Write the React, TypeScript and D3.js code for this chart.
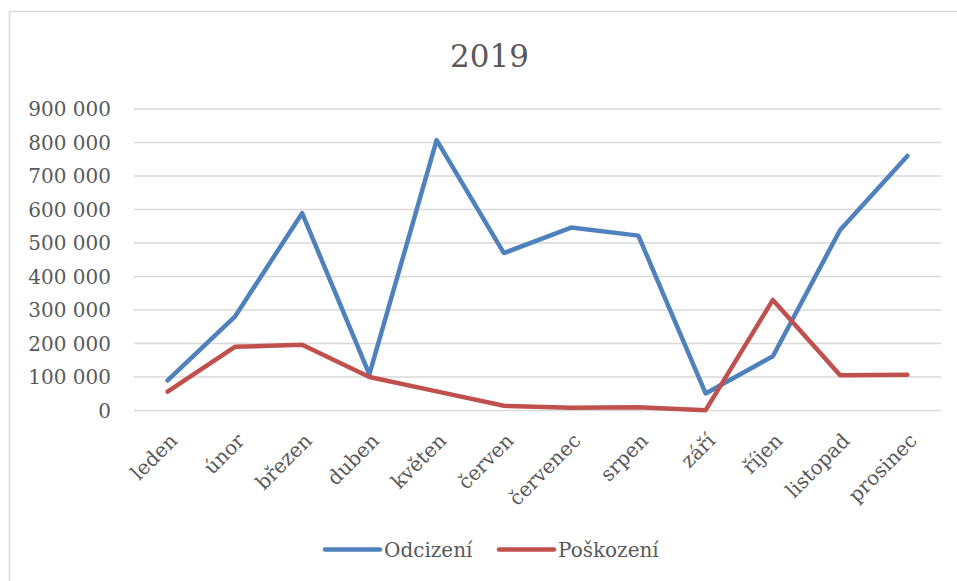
import React from "react";
import * as d3 from "d3";

// data
const months = ["leden", "únor", "březen", "duben", "květen", "červen", "červenec", "srpen", "září", "říjen", "listopad", "prosinec"];
const odcizeni = [90000, 280000, 589000, 108000, 807000, 470000, 546000, 522000, 51000, 162000, 539000, 760000];
const poskozeni = [56000, 190000, 196000, 100000, 57000, 14000, 8000, 10000, 1000, 330000, 105000, 107000];
const yTicks = [0, 100000, 200000, 300000, 400000, 500000, 600000, 700000, 800000, 900000];

const seriesNames = ["Odcizení", "Poškození"];
const seriesColors = ["#4f81bd", "#c0504d"];

const W = 957, H = 581;
const FONT = "'DejaVu Serif', serif";
const TEXT = "#595959";

const locale = d3.formatLocale({ decimal: ",", thousands: " ", grouping: [3], currency: ["", " Kč"] });
const fmt = locale.format(",");

export default function App() {
  const x = d3.scalePoint<string>().domain(months).range([134, 941]).padding(0.5);
  const y = d3.scaleLinear().domain([0, 900000]).range([410.5, 109]);

  const line = d3.line<number>()
    .x((d, i) => x(months[i]) as number)
    .y(d => y(d));

  const allSeries = [odcizeni, poskozeni];
  const legendX = [325, 499];

  return (
    <svg width={W} height={H} style={{ position: "fixed", left: 0, top: 0, background: "#fff" }}
      fontFamily={FONT}>
      <rect x={0} y={0} width={W} height={H} fill="#fff" />
      {/* chart area border */}
      <path d={`M9.5,${H} V11.5 H${W}`} fill="none" stroke="#d9d9d9" strokeWidth={1.5} />

      <text x={489.5} y={66.5} textAnchor="middle" fontSize={31} fill={TEXT}>2019</text>

      {/* gridlines + y labels */}
      {yTicks.map(t => (
        <g key={t}>
          <line x1={134} x2={941} y1={y(t)} y2={y(t)} stroke="#d9d9d9" strokeWidth={1.5} />
          <text x={111} y={y(t)} dy="0.36em" textAnchor="end" fontSize={20} fill={TEXT}>{fmt(t)}</text>
        </g>
      ))}

      {/* x labels */}
      {months.map(m => (
        <text key={m} transform={`translate(${(x(m) as number) + 1},${432}) rotate(-45)`}
          textAnchor="end" dy="0.7em" fontSize={20} fill={TEXT}>{m}</text>
      ))}

      {/* lines */}
      {allSeries.map((s, i) => (
        <path key={i} d={line(s) || ""} fill="none" stroke={seriesColors[i]} strokeWidth={4.5}
          strokeLinejoin="round" strokeLinecap="round" />
      ))}

      {/* legend */}
      {seriesNames.map((n, i) => (
        <g key={n}>
          <line x1={legendX[i]} x2={legendX[i] + 55} y1={549.5} y2={549.5} stroke={seriesColors[i]}
            strokeWidth={4.5} strokeLinecap="round" />
          <text x={legendX[i] + 59} y={549.5} dy="0.36em" fontSize={20} fill={TEXT}>{n}</text>
        </g>
      ))}
    </svg>
  );
}
